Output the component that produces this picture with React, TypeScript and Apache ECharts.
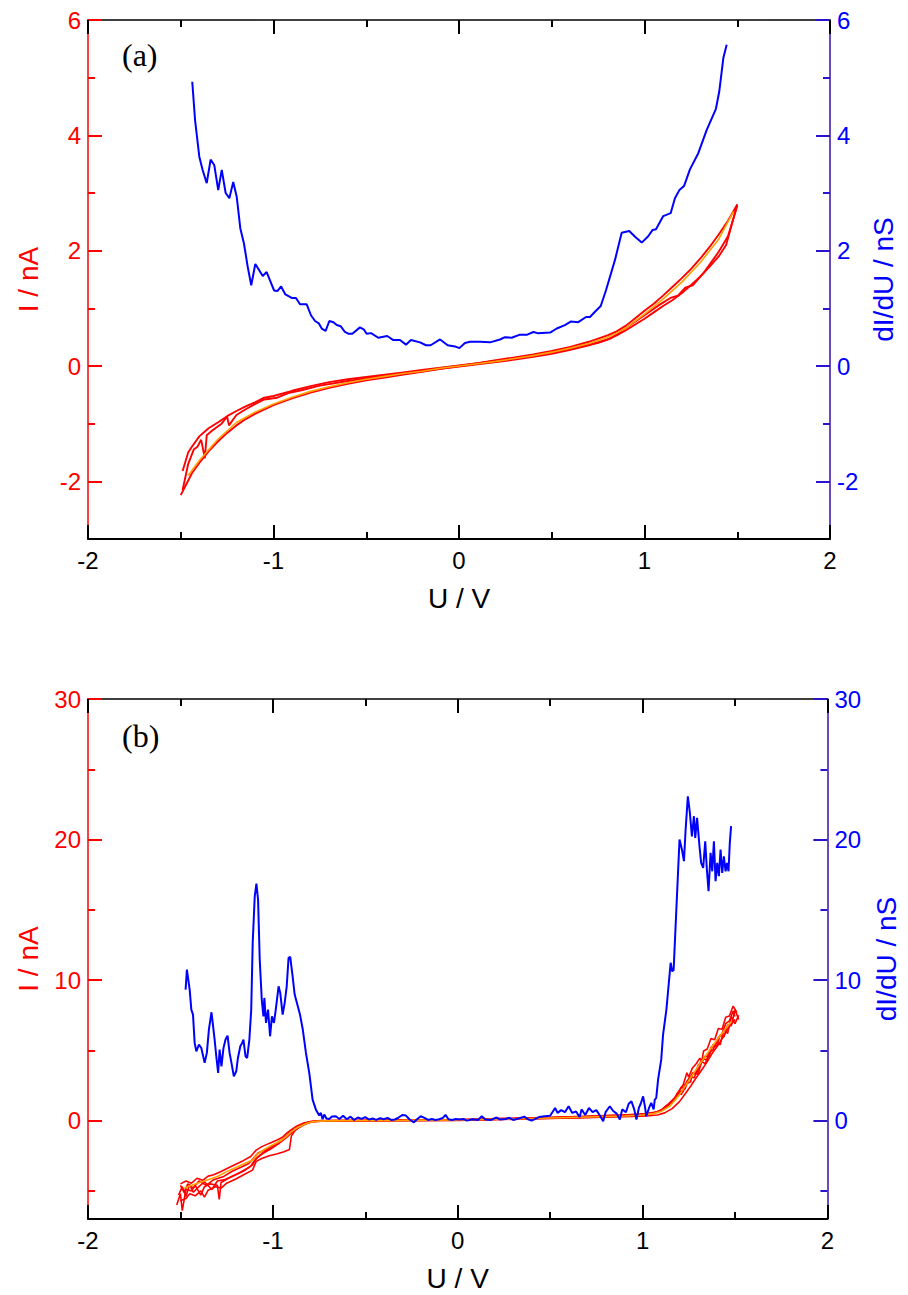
import React, { useEffect, useRef } from "react";
import * as echarts from "echarts";

// ---------- Panel (a) data: U in V, I in nA, dI/dU in nS ----------
const ivA_sweep1: number[][] = [
  [-1.5, -2.24], [-1.47, -2.05], [-1.44, -1.86], [-1.4, -1.68], [-1.35, -1.48], [-1.3, -1.31], [-1.25, -1.16],
  [-1.2, -1.03], [-1.15, -0.92], [-1.1, -0.83], [-1.0, -0.68], [-0.9, -0.56], [-0.8, -0.46], [-0.7, -0.38],
  [-0.6, -0.31], [-0.5, -0.25], [-0.4, -0.2], [-0.3, -0.15], [-0.2, -0.1], [-0.1, -0.05], [0, -0.01],
  [0.1, 0.03], [0.2, 0.07], [0.3, 0.11], [0.4, 0.16], [0.5, 0.21], [0.6, 0.28], [0.7, 0.36], [0.8, 0.46],
  [0.85, 0.53], [0.9, 0.62], [0.95, 0.72], [1.0, 0.82], [1.05, 0.93], [1.1, 1.04], [1.15, 1.14], [1.2, 1.26],
  [1.25, 1.4], [1.3, 1.55], [1.35, 1.72], [1.4, 1.9], [1.44, 2.1], [1.47, 2.45], [1.5, 2.8],
];
const ivA_sweep2: number[][] = [
  [1.5, 2.8], [1.45, 2.52], [1.4, 2.28], [1.35, 2.06], [1.3, 1.86], [1.25, 1.68], [1.2, 1.52], [1.15, 1.37],
  [1.1, 1.22], [1.05, 1.08], [1.0, 0.96], [0.95, 0.83], [0.9, 0.7], [0.85, 0.6], [0.8, 0.53], [0.7, 0.42],
  [0.6, 0.33], [0.5, 0.26], [0.4, 0.2], [0.3, 0.15], [0.2, 0.1], [0.1, 0.05], [0, 0.01], [-0.1, -0.03],
  [-0.2, -0.07], [-0.3, -0.11], [-0.4, -0.15], [-0.5, -0.19], [-0.6, -0.23], [-0.7, -0.28], [-0.8, -0.35],
  [-0.9, -0.43], [-1.0, -0.52], [-1.05, -0.55], [-1.1, -0.63], [-1.15, -0.7], [-1.2, -0.78], [-1.25, -0.87],
  [-1.3, -0.98], [-1.35, -1.08], [-1.4, -1.22], [-1.44, -1.4], [-1.46, -1.5], [-1.49, -1.82],
];
const ivA_sweep3: number[][] = [
  [-1.49, -2.15], [-1.47, -1.85], [-1.46, -1.7], [-1.43, -1.45], [-1.41, -1.4], [-1.39, -1.28], [-1.37, -1.6],
  [-1.36, -1.2], [-1.33, -1.12], [-1.28, -1.0], [-1.25, -0.88], [-1.24, -1.03], [-1.2, -0.85], [-1.15, -0.75],
  [-1.1, -0.66], [-1.05, -0.58], [-0.98, -0.55], [-0.92, -0.47], [-0.85, -0.42], [-0.75, -0.34], [-0.6, -0.26],
  [-0.4, -0.17], [-0.2, -0.09], [0, 0], [0.2, 0.09], [0.4, 0.18], [0.6, 0.3], [0.75, 0.4], [0.82, 0.48],
  [0.9, 0.66], [1.0, 0.88], [1.08, 1.06], [1.14, 1.18], [1.18, 1.22], [1.22, 1.36], [1.26, 1.4], [1.32, 1.62],
  [1.4, 1.98], [1.45, 2.25], [1.5, 2.78],
];
const ivA_mean: number[][] = [
  [-1.46, -1.9], [-1.4, -1.64], [-1.3, -1.27], [-1.2, -0.98], [-1.1, -0.8], [-1.0, -0.66], [-0.9, -0.54],
  [-0.8, -0.44], [-0.7, -0.36], [-0.6, -0.29], [-0.5, -0.23], [-0.4, -0.18], [-0.3, -0.13], [-0.2, -0.09],
  [-0.1, -0.04], [0, 0], [0.1, 0.04], [0.2, 0.08], [0.3, 0.13], [0.4, 0.18], [0.5, 0.24], [0.6, 0.31],
  [0.7, 0.39], [0.8, 0.5], [0.85, 0.57], [0.9, 0.66], [1.0, 0.9], [1.1, 1.16], [1.2, 1.45], [1.3, 1.79],
  [1.4, 2.2], [1.48, 2.68],
];
const didvA: number[][] = [
  [-1.438, 4.93], [-1.423, 4.27], [-1.4, 3.63], [-1.382, 3.4], [-1.36, 3.17], [-1.339, 3.58], [-1.319, 3.48],
  [-1.298, 3.05], [-1.279, 3.4], [-1.258, 3.0], [-1.238, 2.91], [-1.217, 3.19], [-1.198, 2.93], [-1.179, 2.39],
  [-1.159, 2.12], [-1.139, 1.72], [-1.12, 1.4], [-1.098, 1.77], [-1.058, 1.56], [-1.037, 1.63], [-0.997, 1.31],
  [-0.979, 1.3], [-0.959, 1.38], [-0.936, 1.24], [-0.902, 1.18], [-0.879, 1.18], [-0.857, 1.07], [-0.821, 1.07],
  [-0.798, 0.88], [-0.776, 0.78], [-0.756, 0.74], [-0.74, 0.65], [-0.719, 0.61], [-0.699, 0.78], [-0.677, 0.76],
  [-0.659, 0.71], [-0.638, 0.69], [-0.615, 0.59], [-0.597, 0.56], [-0.575, 0.56], [-0.534, 0.67], [-0.512, 0.63],
  [-0.498, 0.56], [-0.474, 0.57], [-0.435, 0.49], [-0.387, 0.52], [-0.354, 0.45], [-0.318, 0.45], [-0.286, 0.37],
  [-0.259, 0.45], [-0.21, 0.41], [-0.178, 0.36], [-0.153, 0.36], [-0.102, 0.46], [-0.061, 0.36], [-0.022, 0.34],
  [0.002, 0.31], [0.032, 0.4], [0.059, 0.42], [0.113, 0.42], [0.167, 0.41], [0.221, 0.46], [0.248, 0.5],
  [0.284, 0.49], [0.325, 0.54], [0.365, 0.54], [0.401, 0.59], [0.424, 0.57], [0.491, 0.58], [0.527, 0.65],
  [0.571, 0.71], [0.602, 0.77], [0.643, 0.76], [0.685, 0.85], [0.706, 0.85], [0.733, 0.94], [0.764, 1.04],
  [0.792, 1.31], [0.841, 1.84], [0.877, 2.31], [0.918, 2.34], [0.949, 2.24], [0.985, 2.14], [1.02, 2.25],
  [1.044, 2.36], [1.062, 2.37], [1.101, 2.6], [1.141, 2.65], [1.164, 2.91], [1.188, 3.05], [1.213, 3.12],
  [1.245, 3.41], [1.29, 3.69], [1.335, 4.09], [1.385, 4.46], [1.403, 4.76], [1.425, 5.34], [1.443, 5.57],
];

// ---------- Panel (b) data ----------
const ivB_sweep1: number[][] = [
  [-1.5, -4.5], [-1.47, -4.3], [-1.44, -4.45], [-1.41, -4.1], [-1.38, -4.25], [-1.35, -3.95], [-1.32, -3.85],
  [-1.28, -3.62], [-1.24, -3.35], [-1.2, -3.1], [-1.16, -2.85], [-1.12, -2.55], [-1.09, -2.1], [-1.06, -1.85],
  [-1.02, -1.62], [-0.98, -1.4], [-0.95, -1.2], [-0.93, -0.95], [-0.9, -0.65], [-0.87, -0.38], [-0.83, -0.15],
  [-0.79, -0.05], [-0.74, 0.0], [-0.5, 0.02], [0, 0.08], [0.5, 0.22], [0.9, 0.4], [1.02, 0.5], [1.08, 0.62],
  [1.12, 0.85], [1.16, 1.35], [1.19, 1.95], [1.22, 2.55], [1.24, 3.4], [1.25, 3.1], [1.27, 3.75], [1.29, 4.05],
  [1.31, 4.45], [1.32, 4.2], [1.33, 4.95], [1.35, 5.1], [1.37, 5.85], [1.39, 5.75], [1.41, 6.55], [1.43, 6.5],
  [1.45, 7.35], [1.47, 7.45], [1.49, 8.15], [1.51, 7.7],
];
const ivB_sweep2: number[][] = [
  [-1.5, -5.7], [-1.47, -5.55], [-1.45, -5.2], [-1.42, -5.35], [-1.39, -5.0], [-1.37, -5.45], [-1.35, -4.95],
  [-1.31, -4.7], [-1.28, -4.8], [-1.25, -4.45], [-1.2, -4.15], [-1.15, -3.8], [-1.11, -3.52], [-1.09, -2.9],
  [-1.06, -2.7], [-1.02, -2.5], [-0.98, -2.38], [-0.94, -2.22], [-0.91, -2.05], [-0.9, -1.1], [-0.88, -0.7],
  [-0.84, -0.3], [-0.8, -0.1], [-0.75, -0.03], [-0.5, -0.02], [0, 0.02], [0.5, 0.15], [0.9, 0.28], [1.02, 0.33],
  [1.08, 0.4], [1.12, 0.55], [1.16, 0.85], [1.2, 1.35], [1.23, 1.9], [1.26, 2.45], [1.29, 3.05], [1.32, 3.6],
  [1.35, 4.2], [1.38, 4.85], [1.41, 5.4], [1.44, 6.05], [1.47, 6.7], [1.5, 7.2],
];
const ivB_sweep3: number[][] = [
  [-1.52, -6.0], [-1.5, -5.2], [-1.49, -6.4], [-1.47, -4.9], [-1.44, -5.0], [-1.42, -4.6], [-1.39, -5.3],
  [-1.37, -4.7], [-1.34, -4.5], [-1.3, -4.6], [-1.29, -5.6], [-1.28, -4.4], [-1.24, -4.1], [-1.2, -3.85],
  [-1.16, -3.6], [-1.12, -3.25], [-1.1, -2.85], [-1.07, -2.45], [-1.04, -2.15], [-1.0, -1.85], [-0.96, -1.55],
  [-0.93, -1.25], [-0.9, -0.9], [-0.86, -0.5], [-0.82, -0.22], [-0.78, -0.06], [-0.7, 0.0], [0, 0.04],
  [0.7, 0.25], [1.0, 0.42], [1.06, 0.55], [1.1, 0.75], [1.14, 1.2], [1.18, 1.7], [1.21, 2.4], [1.23, 2.25],
  [1.25, 3.0], [1.28, 3.45], [1.3, 3.3], [1.32, 4.2], [1.34, 4.05], [1.36, 4.9], [1.38, 5.0], [1.4, 5.6],
  [1.42, 5.4], [1.44, 6.5], [1.46, 6.2], [1.48, 7.4], [1.5, 6.9], [1.52, 7.5],
];
const ivB_sweep4: number[][] = [
  [-1.5, -4.6], [-1.48, -5.1], [-1.46, -4.5], [-1.43, -4.8], [-1.4, -4.3], [-1.36, -4.6], [-1.32, -4.2],
  [-1.27, -4.0], [-1.22, -3.6], [-1.17, -3.3], [-1.13, -3.05], [-1.1, -2.6], [-1.08, -2.3], [-1.03, -2.0],
  [-0.99, -1.7], [-0.95, -1.35], [-0.92, -1.0], [-0.88, -0.62], [-0.84, -0.28], [-0.8, -0.08], [-0.7, -0.01],
  [0, 0.06], [0.7, 0.3], [1.0, 0.45], [1.07, 0.58], [1.11, 0.8], [1.15, 1.25], [1.18, 1.55], [1.2, 2.1],
  [1.22, 2.05], [1.24, 2.8], [1.26, 3.1], [1.28, 3.05], [1.3, 3.9], [1.33, 4.4], [1.35, 4.3], [1.37, 5.2],
  [1.39, 5.3], [1.41, 5.9], [1.43, 6.2], [1.45, 6.9], [1.47, 7.1], [1.49, 7.8], [1.5, 7.4],
];
const ivB_sweep5: number[][] = [
  [-1.51, -5.3], [-1.49, -4.7], [-1.47, -5.4], [-1.45, -4.55], [-1.43, -5.1], [-1.4, -4.7], [-1.37, -4.35],
  [-1.33, -4.9], [-1.3, -4.3], [-1.26, -4.2], [-1.22, -3.95], [-1.18, -3.7], [-1.14, -3.4], [-1.11, -3.15],
  [-1.09, -2.7], [-1.05, -2.3], [-1.01, -2.0], [-0.97, -1.65], [-0.94, -1.3], [-0.91, -0.95], [-0.87, -0.55],
  [-0.83, -0.25], [-0.79, -0.08], [-0.7, -0.02], [0, 0.03], [0.7, 0.22], [1.0, 0.38], [1.06, 0.5],
  [1.1, 0.7], [1.13, 1.05], [1.17, 1.45], [1.19, 2.0], [1.21, 1.85], [1.23, 2.6], [1.26, 2.75], [1.27, 3.4],
  [1.29, 3.3], [1.31, 3.95], [1.34, 4.6], [1.36, 4.55], [1.38, 5.4], [1.4, 5.25], [1.42, 6.1], [1.44, 5.95],
  [1.46, 6.8], [1.48, 6.75], [1.5, 7.9], [1.52, 7.2],
];
const ivB_mean: number[][] = [
  [-1.48, -4.82], [-1.45, -4.65], [-1.4, -4.42], [-1.35, -4.2], [-1.3, -3.98], [-1.25, -3.63], [-1.2, -3.33],
  [-1.15, -3.03], [-1.11, -2.8], [-1.08, -2.35], [-1.04, -2.0], [-1.0, -1.72], [-0.96, -1.45], [-0.93, -1.15],
  [-0.9, -0.8], [-0.86, -0.45], [-0.82, -0.2], [-0.78, -0.07], [-0.72, -0.02], [-0.6, 0.0], [-0.3, 0.02],
  [0, 0.05], [0.3, 0.12], [0.6, 0.22], [0.9, 0.33], [1.0, 0.4], [1.06, 0.5], [1.1, 0.65], [1.15, 1.05],
  [1.2, 1.85], [1.25, 2.85], [1.3, 3.85], [1.35, 4.78], [1.4, 5.7], [1.45, 6.55], [1.48, 7.05],
];
const didvB: number[][] = [
  [-1.472, 9.32], [-1.465, 10.75], [-1.45, 9.32], [-1.441, 7.9], [-1.432, 7.54], [-1.423, 5.53], [-1.414, 4.93],
  [-1.4, 5.41], [-1.387, 5.17], [-1.369, 4.11], [-1.357, 4.82], [-1.346, 6.48], [-1.332, 7.71], [-1.315, 5.77],
  [-1.306, 4.58], [-1.296, 3.39], [-1.288, 5.05], [-1.278, 3.86], [-1.267, 5.17], [-1.256, 5.77], [-1.245, 6.05],
  [-1.234, 4.82], [-1.224, 4.11], [-1.211, 3.15], [-1.198, 3.51], [-1.189, 4.46], [-1.176, 5.29], [-1.166, 5.53],
  [-1.159, 5.77], [-1.148, 4.58], [-1.139, 4.46], [-1.127, 5.77], [-1.117, 7.9], [-1.109, 12.65], [-1.098, 15.96],
  [-1.089, 16.87], [-1.08, 15.73], [-1.071, 11.46], [-1.06, 8.61], [-1.051, 7.42], [-1.046, 8.73], [-1.037, 6.95],
  [-1.026, 7.9], [-1.015, 6.0], [-1.005, 7.42], [-0.994, 6.95], [-0.983, 8.02], [-0.969, 9.56], [-0.96, 9.09],
  [-0.947, 7.54], [-0.936, 8.38], [-0.925, 9.56], [-0.915, 11.58], [-0.906, 11.65], [-0.893, 10.27],
  [-0.882, 8.97], [-0.865, 8.14], [-0.853, 7.54], [-0.838, 6.48], [-0.821, 4.82], [-0.803, 3.39], [-0.785, 1.49],
  [-0.767, 0.78], [-0.749, 0.36], [-0.74, 0.55], [-0.731, 0.1], [-0.722, 0.43], [-0.71, 0.15], [-0.695, 0.12],
  [-0.68, 0.3], [-0.659, 0.31], [-0.64, 0.12], [-0.62, 0.35], [-0.6, 0.1], [-0.58, 0.28], [-0.56, 0.05],
  [-0.54, 0.22], [-0.52, 0.12], [-0.5, 0.25], [-0.48, 0.08], [-0.46, 0.15], [-0.44, 0.05], [-0.42, 0.18],
  [-0.4, 0.1], [-0.38, 0.2], [-0.36, 0.05], [-0.34, 0.08], [-0.32, 0.22], [-0.3, 0.4], [-0.28, 0.36],
  [-0.26, 0.08], [-0.237, -0.12], [-0.22, 0.1], [-0.2, 0.31], [-0.18, 0.2], [-0.16, 0.05], [-0.14, 0.12],
  [-0.12, 0.05], [-0.1, 0.1], [-0.08, 0.2], [-0.066, 0.41], [-0.05, 0.1], [-0.03, 0.05], [-0.01, 0.12],
  [0.01, 0.08], [0.03, 0.12], [0.05, 0.0], [0.08, 0.1], [0.11, 0.05], [0.13, 0.31], [0.15, 0.08], [0.18, 0.05],
  [0.21, 0.22], [0.23, 0.08], [0.26, 0.12], [0.28, 0.2], [0.3, 0.05], [0.33, 0.15], [0.36, 0.28], [0.38, 0.1],
  [0.4, 0.0], [0.42, 0.12], [0.44, 0.25], [0.47, 0.31], [0.5, 0.35], [0.527, 0.9], [0.54, 0.55], [0.56, 0.75],
  [0.58, 0.6], [0.6, 1.02], [0.62, 0.55], [0.64, 0.65], [0.66, 0.25], [0.67, 0.8], [0.69, 0.4], [0.71, 0.9],
  [0.73, 0.6], [0.75, 0.75], [0.77, 0.35], [0.787, -0.05], [0.8, 0.6], [0.823, 1.02], [0.84, 0.7], [0.86, 0.5],
  [0.877, 0.07], [0.89, 0.8], [0.91, 0.6], [0.925, 1.2], [0.94, 1.37], [0.955, 0.8], [0.967, 0.07], [0.98, 0.9],
  [0.99, 1.2], [1.003, 1.73], [1.013, 1.0], [1.02, 0.31], [1.035, 0.9], [1.047, 1.26], [1.06, 0.8], [1.066, 1.49],
  [1.074, 1.6], [1.084, 2.92], [1.101, 4.34], [1.111, 6.12], [1.129, 7.9], [1.147, 10.51], [1.152, 11.23],
  [1.16, 10.63], [1.168, 10.7], [1.182, 14.78], [1.2, 20.0], [1.213, 19.29], [1.224, 18.46], [1.233, 20.71],
  [1.245, 23.08], [1.256, 21.9], [1.267, 20.23], [1.278, 21.66], [1.285, 20.12], [1.295, 21.54], [1.308, 19.52],
  [1.317, 18.34], [1.328, 17.98], [1.339, 19.88], [1.348, 17.86], [1.357, 16.32], [1.368, 19.05], [1.377, 17.74],
  [1.386, 19.88], [1.395, 17.03], [1.404, 18.34], [1.413, 17.39], [1.422, 19.29], [1.431, 17.63], [1.44, 18.81],
  [1.449, 17.74], [1.457, 18.34], [1.465, 17.74], [1.472, 19.76], [1.479, 20.95],
];

// ---------- axis ranges / ticks ----------
const xRange = [-2, 2];
const yRangeA = [-3, 6];
const yMajorA = [-2, 0, 2, 4, 6];
const yMinorA = [-1, 1, 3, 5];
const yRangeB = [-7, 30];
const yMajorB = [0, 10, 20, 30];
const yMinorB = [-5, 5, 15, 25];
const panelLabels = ["(a)", "(b)"];

const SANS = "'Liberation Sans', Arial, Helvetica, sans-serif";
const SERIF = "'Liberation Serif', 'Times New Roman', serif";
const RED = "#ff0000";
const ORANGE = "#ffa200";
const BLUE = "#0000ff";
const RAXIS = "#3311aa";
const RTICK = "#2a14cc";

// ---------------- axis builders ----------------
// Main axes: line + labels + name, no ticks.
function mainX(gridIndex: number, position: string, withLabels: boolean) {
  return {
    type: "value",
    gridIndex,
    position,
    min: xRange[0],
    max: xRange[1],
    interval: 1,
    splitLine: { show: false },
    axisLine: { show: true, onZero: false, lineStyle: { color: "#000", width: position === "bottom" ? 2 : 1.5 } },
    axisTick: { show: false },
    name: withLabels ? "U / V" : "",
    nameLocation: "middle",
    nameGap: 45,
    nameTextStyle: { color: "#000", fontSize: 28, fontFamily: SANS },
    axisLabel: { show: withLabels, color: "#000", fontSize: 24, margin: 9, fontFamily: SANS },
  };
}
function mainY(gridIndex: number, range: number[], majors: number[], side: string) {
  const isLeft = side === "left";
  const labelColor = isLeft ? RED : BLUE;
  return {
    type: "value",
    gridIndex,
    position: side,
    min: range[0],
    max: range[1],
    name: isLeft ? "I / nA" : "dI/dU / nS",
    nameLocation: "middle",
    nameRotate: 90,
    nameGap: isLeft ? 46 : 36,
    nameTextStyle: { color: labelColor, fontSize: 28, fontFamily: SANS },
    splitLine: { show: false },
    axisLine: { show: true, onZero: false, lineStyle: { color: isLeft ? RED : RAXIS, width: 1.5 } },
    axisTick: { show: false },
    axisLabel: { show: true, customValues: majors, color: labelColor, fontSize: 24, margin: 7, fontFamily: SANS },
  };
}
// Tick-only helper axes (no line, no labels), pinned to a grid edge through the zero of a hidden axis
function tickX(gridIndex: number, position: string, onZeroIdx: number) {
  return {
    type: "value",
    gridIndex,
    position,
    min: xRange[0],
    max: xRange[1],
    interval: 1,
    splitLine: { show: false },
    axisLine: { show: false, onZero: true, onZeroAxisIndex: onZeroIdx },
    axisTick: { show: true, inside: true, length: 14, lineStyle: { color: "#000", width: 2 } },
    minorTick: { show: true, splitNumber: 2, length: 7, lineStyle: { color: "#000", width: 2 } },
    minorSplitLine: { show: false },
    axisLabel: { show: false },
  };
}
function tickY(gridIndex: number, range: number[], values: number[], len: number, side: string, onZeroIdx: number) {
  return {
    type: "value",
    gridIndex,
    position: side,
    min: range[0],
    max: range[1],
    splitLine: { show: false },
    axisLine: { show: false, onZero: true, onZeroAxisIndex: onZeroIdx },
    axisTick: {
      show: true, inside: true, length: len, customValues: values,
      lineStyle: { color: side === "left" ? RED : RTICK, width: 2 },
    },
    axisLabel: { show: false },
  };
}
function dummy(gridIndex: number, min: number, max: number) {
  return { type: "value", gridIndex, min, max, show: false };
}

function line(data: number[][], color: string, width: number, xi: number, yi: number, z: number) {
  return {
    type: "line",
    data,
    xAxisIndex: xi,
    yAxisIndex: yi,
    showSymbol: false,
    symbol: "none",
    z,
    lineStyle: { color, width },
    emphasis: { disabled: true },
  };
}

export default function App() {
  const ref = useRef<HTMLDivElement>(null);
  useEffect(() => {
    if (!ref.current) return;
    const chart = echarts.init(ref.current, undefined, { renderer: "svg" });
    // xAxis: 0 A bottom, 1 A top, 2 A tick bottom, 3 A tick top, 4 A dummy(0..1), 5 A dummy(-1..0),
    //        6 B bottom, 7 B top, 8 B tick bottom, 9 B tick top, 10 B dummy(0..1), 11 B dummy(-1..0)
    // yAxis: 0 A left, 1 A right, 2-5 A tick helpers, 6 A dummy(0..1), 7 A dummy(-1..0),
    //        8 B left, 9 B right, 10-13 B tick helpers, 14 B dummy(0..1), 15 B dummy(-1..0)
    const xAxis = [
      mainX(0, "bottom", true),
      mainX(0, "top", false),
      tickX(0, "bottom", 6),
      tickX(0, "top", 7),
      dummy(0, 0, 1),
      dummy(0, -1, 0),
      mainX(1, "bottom", true),
      mainX(1, "top", false),
      tickX(1, "bottom", 14),
      tickX(1, "top", 15),
      dummy(1, 0, 1),
      dummy(1, -1, 0),
    ];
    const yAxis = [
      mainY(0, yRangeA, yMajorA, "left"),
      mainY(0, yRangeA, yMajorA, "right"),
      tickY(0, yRangeA, yMajorA, 14, "left", 4),
      tickY(0, yRangeA, yMinorA, 7, "left", 4),
      tickY(0, yRangeA, yMajorA, 14, "right", 5),
      tickY(0, yRangeA, yMinorA, 7, "right", 5),
      dummy(0, 0, 1),
      dummy(0, -1, 0),
      mainY(1, yRangeB, yMajorB, "left"),
      mainY(1, yRangeB, yMajorB, "right"),
      tickY(1, yRangeB, yMajorB, 14, "left", 10),
      tickY(1, yRangeB, yMinorB, 7, "left", 10),
      tickY(1, yRangeB, yMajorB, 14, "right", 11),
      tickY(1, yRangeB, yMinorB, 7, "right", 11),
      dummy(1, 0, 1),
      dummy(1, -1, 0),
    ];
    const option = {
      animation: false,
      backgroundColor: "#fff",
      grid: [
        { left: 88, top: 20, width: 742, height: 519 },
        { left: 88, top: 699, width: 742, height: 520 },
      ],
      xAxis,
      yAxis,
      graphic: [
        { type: "text", left: 122, top: 39, style: { text: panelLabels[0], font: `32px ${SERIF}`, fill: "#000" } },
        { type: "text", left: 122, top: 720, style: { text: panelLabels[1], font: `32px ${SERIF}`, fill: "#000" } },
      ],
      series: [
        line(ivA_sweep1, RED, 1.9, 0, 0, 2),
        line(ivA_sweep2, RED, 1.9, 0, 0, 2),
        line(ivA_sweep3, RED, 1.9, 0, 0, 2),
        line(ivA_mean, ORANGE, 1.6, 0, 0, 3),
        line(didvA, BLUE, 2, 0, 1, 4),
        line(ivB_sweep1, RED, 1.6, 6, 8, 2),
        line(ivB_sweep2, RED, 1.6, 6, 8, 2),
        line(ivB_sweep3, RED, 1.6, 6, 8, 2),
        line(ivB_sweep4, RED, 1.6, 6, 8, 2),
        line(ivB_sweep5, RED, 1.6, 6, 8, 2),
        line(ivB_mean, ORANGE, 1.6, 6, 8, 3),
        line(didvB, BLUE, 2, 6, 9, 4),
      ],
    };
    chart.setOption(option as any);
    return () => chart.dispose();
  }, []);
  return (
    <div
      ref={ref}
      style={{ position: "absolute", left: 0, top: 0, width: 908, height: 1295, background: "#fff" }}
    />
  );
}
